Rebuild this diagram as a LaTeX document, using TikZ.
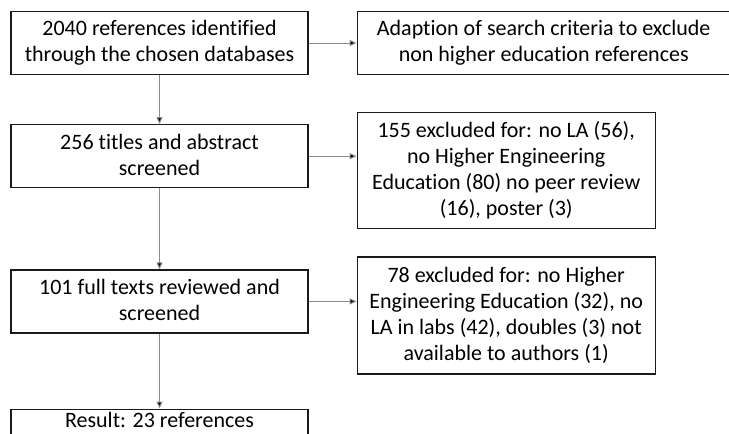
\documentclass[tikz,border=0pt]{standalone}
\usepackage{fontspec}
\setmainfont{Carlito}[Ligatures={NoCommon}]
\usetikzlibrary{positioning, arrows.meta}
\definecolor{linegray}{HTML}{8c8c8c}
\definecolor{boxline}{HTML}{1a1a1a}
% lines of a box, each with the same height and depth
\newcommand{\boxlines}[1]{\renewcommand{\arraystretch}{1}\begin{tabular}{@{}c@{}}\rule{0pt}{19.5pt}#1\end{tabular}}
\tikzset{
  stagebox/.style={
    draw=boxline, line width=1.2pt, minimum width=297pt, minimum height=63pt,
    inner sep=2pt, font=\fontsize{22}{26}\selectfont
  },
  notebox/.style={
    stagebox, minimum width=298pt, minimum height=116pt
  },
  flowarrow/.style={-{Triangle[length=7pt,width=6pt,fill=black]}, line width=1pt, draw=linegray}
}

\begin{document}
\begin{tikzpicture}[x=1pt, y=1pt]
      \useasboundingbox (0,0) rectangle (729,-434);
      \clip (0,0) rectangle (729,-434);

      \node[stagebox] (ident) at (159.5,-43) {\boxlines{2040 references identified\\through the chosen databases}};
      \node[stagebox, minimum width=373pt, right=48pt of ident] (adapt) {\boxlines{Adaption of search criteria to exclude\\non higher education references}};
      \node[stagebox, below=49pt of ident] (screen) {\boxlines{256 titles and abstract\\screened}};
      \node[notebox, below=37pt of adapt.south west, anchor=north west] (exclA) {\boxlines{155 excluded for: no LA (56),\\no Higher Engineering\\Education (80) no peer review\\(16), poster (3)}};
      \node[stagebox, below=81pt of screen] (fulltext) {\boxlines{101 full texts reviewed and\\screened}};
      \node[notebox, minimum height=117pt, below=27pt of exclA.south west, anchor=north west] (exclB) {\boxlines{78 excluded for: no Higher\\Engineering Education (32), no\\LA in labs (42), doubles (3) not\\available to authors (1)}};
      \node[stagebox, minimum height=0pt, text height=12pt, text depth=40pt, inner ysep=6pt, below=75pt of fulltext] (result) {Result: 23 references};

      \draw[flowarrow] (ident)    -- (screen);
      \draw[flowarrow] (screen)   -- (fulltext);
      \draw[flowarrow] (fulltext) -- (result);
      \draw[flowarrow] (ident)    -- (adapt);
      \draw[flowarrow] (screen.east)   -- (screen.east -| exclA.west);
      \draw[flowarrow] (fulltext.east) -- (fulltext.east -| exclB.west);
    \end{tikzpicture}
\end{document}
